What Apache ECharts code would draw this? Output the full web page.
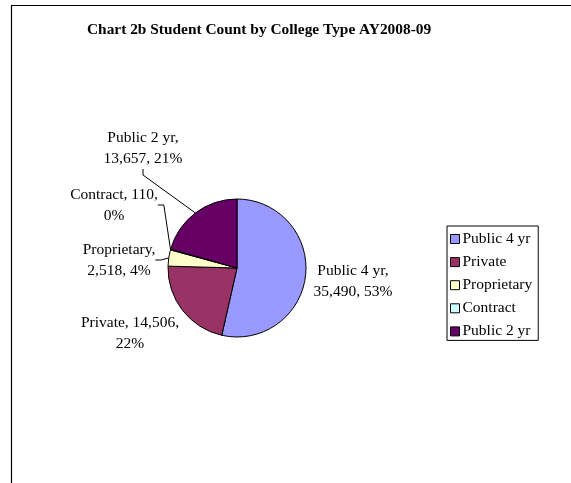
<!DOCTYPE html>
<html>
<head>
<meta charset="utf-8">
<script src="https://cdn.jsdelivr.net/npm/echarts@6/dist/echarts.min.js"></script>
<style>
  html, body { margin: 0; padding: 0; background: #fff; }
  #chart { width: 571px; height: 483px; }
</style>
</head>
<body>
<div id="chart"></div>
<script>
// chart data
var categories = ['Public 4 yr', 'Private', 'Proprietary', 'Contract', 'Public 2 yr']
var studentCounts = [35490, 14506, 2518, 110, 13657]
var sliceColors = ['#9999FF', '#993366', '#FFFFCC', '#CCFFFF', '#660066']

// label placement (centre of the text block), and where Excel wrapped the text
var labelSpots = [[353, 281], [130, 333], [119, 260], [114, 205], [143, 148]]
var wrapAfterValue = [false, true, false, true, false]
var showLeader = [false, false, true, true, true]

var serif = 'Liberation Serif, Times New Roman, serif'

var chart = echarts.init(document.getElementById('chart'))

chart.setOption({
  animation: false,
  backgroundColor: '#fff',
  title: {
    text: 'Chart 2b Student Count by College Type AY2008-09',
    left: 82,
    top: 18,
    textStyle: {
      fontFamily: serif,
      fontSize: 15.4,
      fontWeight: 'bold',
      color: '#000'
    }
  },
  legend: {
    orient: 'vertical',
    left: 447,
    top: 226,
    padding: [5, 6, 1, 3],
    itemGap: 7.1,
    itemWidth: 9,
    itemHeight: 9,
    icon: 'rect',
    borderColor: '#000',
    borderWidth: 1,
    itemStyle: {
      borderColor: '#000',
      borderWidth: 1
    },
    textStyle: {
      fontFamily: serif,
      fontSize: 15.5,
      color: '#000',
      padding: [0, 0, 0, -2]
    },
    data: categories
  },
  graphic: [
    {
      type: 'rect',
      shape: { x: 11.5, y: 5.5, width: 800, height: 800 },
      style: { fill: 'none', stroke: '#000', lineWidth: 1.2 },
      silent: true
    }
  ],
  series: [
    {
      type: 'pie',
      center: [237, 268],
      radius: 69,
      startAngle: 90,
      clockwise: true,
      percentPrecision: 0,
      avoidLabelOverlap: false,
      itemStyle: {
        borderColor: '#000',
        borderWidth: 1
      },
      label: {
        show: true,
        position: 'outside',
        fontFamily: serif,
        fontSize: 15.5,
        lineHeight: 21,
        color: '#000',
        align: 'center',
        formatter: function (p) {
          var val = p.value.toLocaleString('en-US')
          if (wrapAfterValue[p.dataIndex]) {
            return p.name + ', ' + val + ',\n' + p.percent + '%'
          }
          return p.name + ',\n' + val + ', ' + p.percent + '%'
        }
      },
      labelLine: {
        show: true,
        length: 8,
        length2: 6,
        lineStyle: { color: '#000', width: 1 }
      },
      labelLayout: function (params) {
        var spot = labelSpots[params.dataIndex]
        return {
          x: spot[0],
          y: spot[1],
          align: 'center',
          verticalAlign: 'middle'
        }
      },
      data: categories.map(function (name, i) {
        return {
          name: name,
          value: studentCounts[i],
          itemStyle: { color: sliceColors[i] },
          labelLine: { show: showLeader[i] }
        }
      })
    }
  ]
})
</script>
</body>
</html>
